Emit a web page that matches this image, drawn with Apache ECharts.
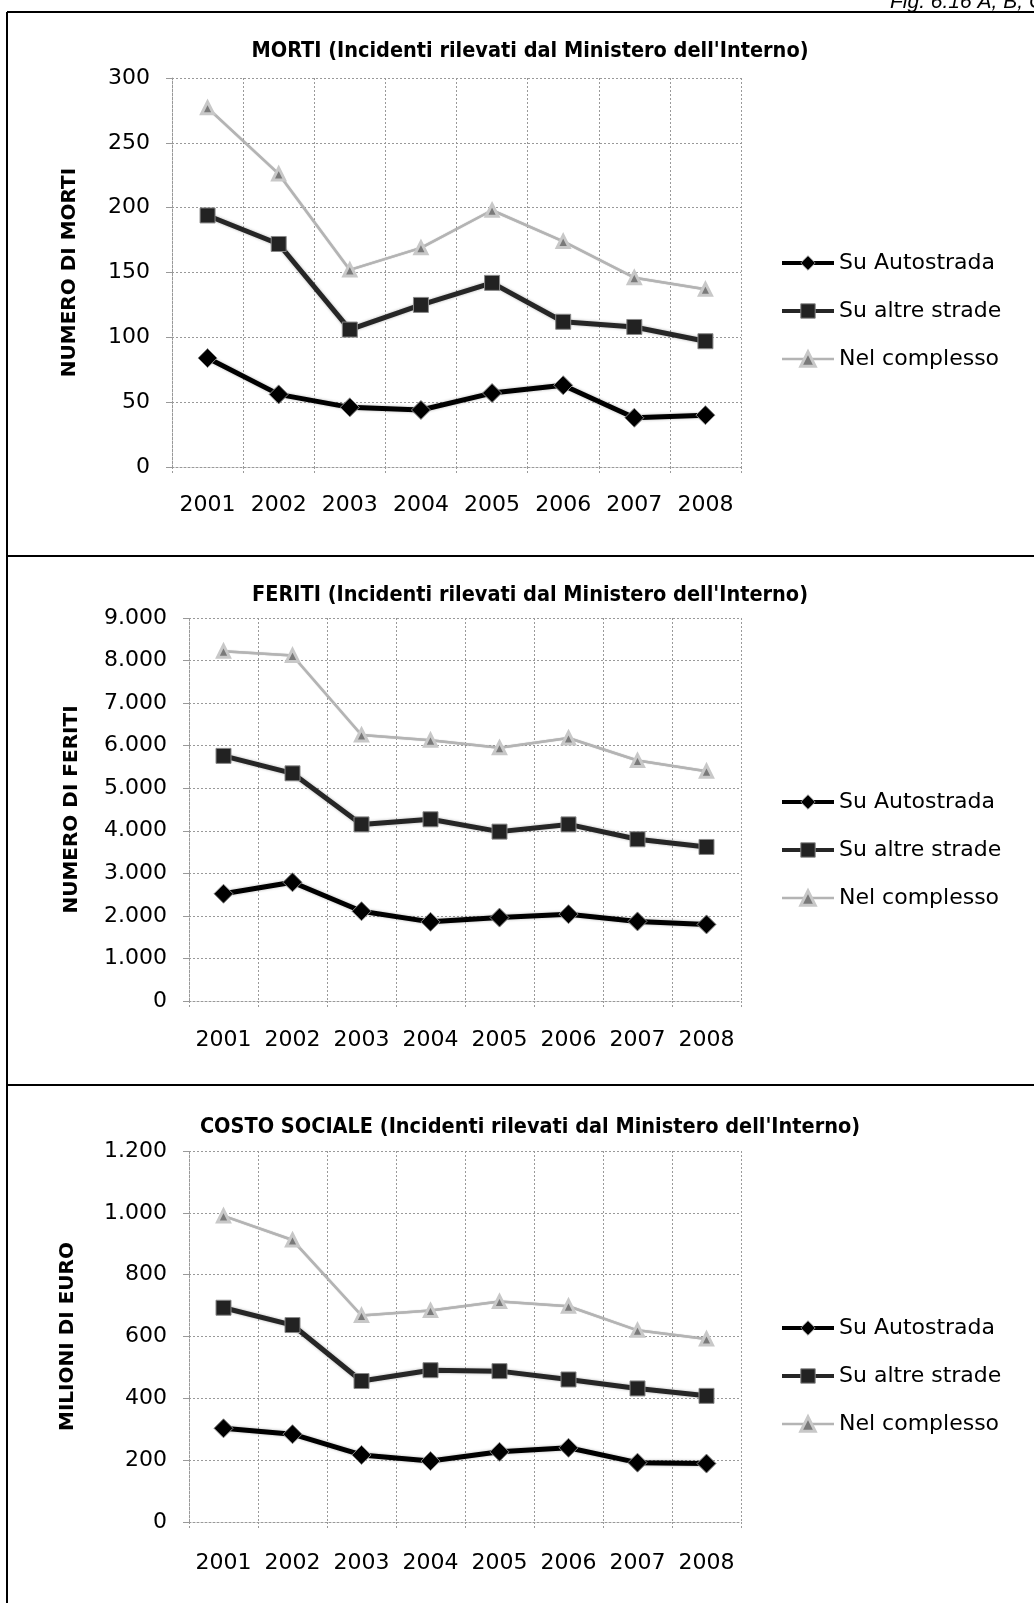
<!DOCTYPE html>
<html><head><meta charset="utf-8">
<script src="https://cdn.jsdelivr.net/npm/echarts@6/dist/echarts.min.js"></script>
<style>html,body{margin:0;padding:0;background:#fff}#c{width:1034px;height:1603px}</style>
</head><body><div id="c"></div>
<script>
const years = ['2001','2002','2003','2004','2005','2006','2007','2008'];
const seriesNames = ['Su Autostrada','Su altre strade','Nel complesso'];

const mortiAutostrada = [84,56,46,44,57,63,38,40];
const mortiAltre = [194,172,106,125,142,112,108,97];
const mortiComplesso = [277,226,152,169,198,174,146,137];

const feritiAutostrada = [2520,2790,2110,1860,1960,2040,1870,1800];
const feritiAltre = [5760,5350,4150,4270,3980,4150,3800,3620];
const feritiComplesso = [8220,8120,6250,6130,5950,6180,5650,5400];

const costoAutostrada = [303,284,217,197,227,240,192,189];
const costoAltre = [693,637,456,491,488,461,432,408];
const costoComplesso = [990,912,668,684,713,698,620,592];

const panelTitles = [
  "MORTI (Incidenti rilevati dal Ministero dell'Interno)",
  "FERITI (Incidenti rilevati dal Ministero dell'Interno)",
  "COSTO SOCIALE (Incidenti rilevati dal Ministero dell'Interno)"
];
const yNames = ['NUMERO DI MORTI','NUMERO DI FERITI','MILIONI DI EURO'];
const yMax = [300, 9000, 1200];
const yStep = [50, 1000, 200];
const figLabel = 'Fig. 6.16 A, B, C';

const panelData = [
  [mortiAutostrada, mortiAltre, mortiComplesso],
  [feritiAutostrada, feritiAltre, feritiComplesso],
  [costoAutostrada, costoAltre, costoComplesso]
];

// layout
const grids = [
  {left:172, top:78, width:569, height:389},
  {left:189, top:618, width:552, height:383},
  {left:189, top:1151, width:552, height:371}
];
const nameGaps = [92, 107, 111];
const xMargins = [27, 28, 30];
const titleY = [51, 595, 1127];
const legendTop = [252, 791, 1317];

const fmt = v => String(v).replace(/\B(?=(\d{3})+(?!\d))/g, '.');
const gridLine = {show:true, lineStyle:{color:'#999', width:1, type:[2,2]}};
const FONT = 'DejaVu Sans';

const styles = [
  {color:'#000000', lineWidth:5, symbol:'diamond', symbolSize:19, itemColor:'#000', border:'#888', bw:1},
  {color:'#262626', lineWidth:5, symbol:'rect', symbolSize:15, itemColor:'#222', border:'#888', bw:1},
  {color:'#b4b4b4', lineWidth:2.5, symbol:'triangle', symbolSize:12, itemColor:'#7a7a7a', border:'#c8c8c8', bw:3}
];

const option = {
  backgroundColor:'#fff',
  animation:false,
  textStyle:{fontFamily:FONT},
  grid: grids,
  xAxis: grids.map((g,i)=>({
    type:'category', gridIndex:i, data:years, boundaryGap:true,
    axisLine:{show:true, lineStyle:{color:'#999', width:1, type:[2,2]}},
    axisTick:{show:true, interval:0, length:8, lineStyle:{color:'#999', type:[2,2]}},
    splitLine:Object.assign({interval:0}, gridLine),
    axisLabel:{interval:0, margin:xMargins[i], color:'#000', fontSize:22, fontFamily:FONT}
  })),
  yAxis: grids.map((g,i)=>({
    type:'value', gridIndex:i, min:0, max:yMax[i], interval:yStep[i],
    name:yNames[i], nameLocation:'middle', nameRotate:90, nameGap:nameGaps[i],
    nameTextStyle:{color:'#000', fontSize:20, fontWeight:'bold', fontFamily:FONT},
    axisLine:{show:true, lineStyle:{color:'#999', width:1, type:[2,2]}},
    axisTick:{show:true, length:6, lineStyle:{color:'#999'}},
    splitLine:gridLine,
    axisLabel:{margin:22, color:'#000', fontSize:22, fontFamily:FONT, formatter:fmt}
  })),
  legend: grids.map((g,i)=>({
    orient:'vertical', left:780, top:legendTop[i], padding:0,
    itemWidth:52, itemHeight:18, itemGap:26,
    data: seriesNames.map((n,k)=>({
      name:n+'\u200b'.repeat(i),
      lineStyle:{width:styles[k].lineWidth - (k<2?1:0), color:styles[k].color},
      itemStyle:{color:styles[k].itemColor, borderColor:styles[k].border, borderWidth:styles[k].bw}
    })),
    textStyle:{color:'#000', fontSize:22, lineHeight:22, fontFamily:FONT, padding:[0,0,0,0]}
  })),
  graphic: [
    {type:'line', shape:{x1:7, y1:12, x2:7, y2:1603}, style:{stroke:'#000', lineWidth:2}},
    {type:'line', shape:{x1:7, y1:12, x2:1034, y2:12}, style:{stroke:'#000', lineWidth:2}},
    {type:'line', shape:{x1:7, y1:556, x2:1034, y2:556}, style:{stroke:'#000', lineWidth:2}},
    {type:'line', shape:{x1:7, y1:1085, x2:1034, y2:1085}, style:{stroke:'#000', lineWidth:2}},
    {type:'text', x:890, y:2, style:{text:figLabel, fill:'#000', font:'italic 21px "Liberation Sans", Arial, sans-serif', textAlign:'left', textVerticalAlign:'middle'}}
  ].concat(panelTitles.map((t,i)=>({
    type:'text', x:530, y:titleY[i],
    style:{text:t, fill:'#000', font:'bold 21.5px "DejaVu Sans Condensed", "DejaVu Sans", sans-serif', textAlign:'center', textVerticalAlign:'middle'}
  }))),
  series: []
};

panelData.forEach((arr,i)=>{
  arr.forEach((vals,k)=>{
    const s = styles[k];
    option.series.push({
      type:'line', name:seriesNames[k]+'\u200b'.repeat(i), xAxisIndex:i, yAxisIndex:i,
      data:vals, symbol:s.symbol, symbolSize:s.symbolSize, showAllSymbol:true,
      z: 10 - k,
      lineStyle:{color:s.color, width:s.lineWidth, shadowColor:'rgba(0,0,0,0.3)', shadowBlur:k<2?3:1},
      itemStyle:{color:s.itemColor, borderColor:s.border, borderWidth:s.bw},
      color:s.color
    });
  });
});

const chart = echarts.init(document.getElementById('c'), null, {renderer:'canvas'});
chart.setOption(option);
</script>
</body></html>
